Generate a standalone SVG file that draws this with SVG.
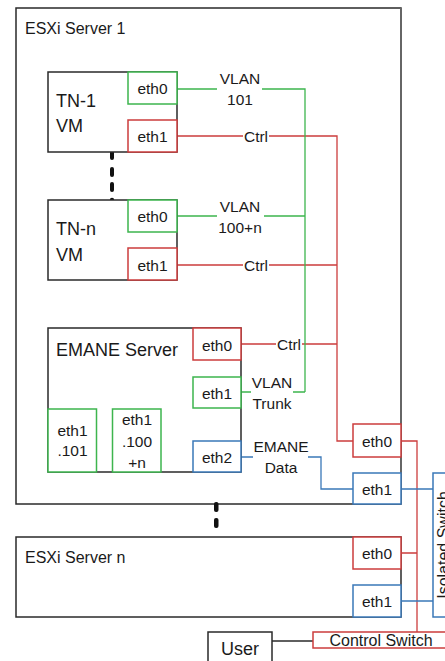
<svg xmlns="http://www.w3.org/2000/svg" width="445" height="661" viewBox="0 0 445 661">
<style>
text{font-family:"Liberation Sans",Arial,sans-serif;fill:#1a1a1a}
.big{font-size:18px}
.ttl{font-size:16px}
.sm{font-size:15.5px;text-anchor:middle}
.box{fill:#fff;stroke:#2a2a2a;stroke-width:1.5}
.g{fill:#fff;stroke:#3db54e;stroke-width:1.5}
.r{fill:#fff;stroke:#cc3d3d;stroke-width:1.5}
.b{fill:#fff;stroke:#3a78b8;stroke-width:1.5}
.lg{fill:none;stroke:#3db54e;stroke-width:1.3}
.lr{fill:none;stroke:#cc3d3d;stroke-width:1.3}
.lb{fill:none;stroke:#3a78b8;stroke-width:1.3}
.lk{fill:none;stroke:#2a2a2a;stroke-width:1.3}
</style>

<g id="esxi1">
<rect x="16" y="8" width="385" height="496" fill="#fff" stroke="#2a2a2a" stroke-width="1.5"/>
<line x1="401" y1="8" x2="401" y2="504" stroke="#666" stroke-width="2"/>
<text class="ttl" x="25" y="34">ESXi Server 1</text>
</g>

<g id="esxin">
<rect x="16" y="537" width="385" height="80" class="box"/>
<text class="ttl" x="25" y="563">ESXi Server n</text>
</g>

<g id="dots">
<rect x="110" y="150" width="4" height="10" rx="2" fill="#111"/>
<rect x="110" y="167" width="4" height="10" rx="2" fill="#111"/>
<rect x="110" y="182" width="4" height="10" rx="2" fill="#111"/>
<circle cx="112" cy="200" r="2.2" fill="#111"/>
<rect x="214" y="502" width="4.5" height="10" rx="2" fill="#111"/>
<rect x="214" y="518" width="4.5" height="10" rx="2" fill="#111"/>
</g>

<g id="connectors">
<path class="lr" d="M177 136H243M269 136H337V441H353"/>
<path class="lr" d="M177 265H243M269 265H337"/>
<path class="lr" d="M241 344H276M302 344H337"/>
<path class="lr" d="M401 441H417V632M401 553H417"/>
<path class="lg" d="M177 89H217M262 89H305V392"/>
<path class="lg" d="M177 216H217M264 216H305"/>
<path class="lg" d="M241 392H251M293 392H305"/>
<path class="lg" d="M193 392H73V409M137 392V409"/>
<path class="lb" d="M241 457H253M308 457H321V489H353"/>
<path class="lb" d="M401 489H433M401 601H433"/>
<path class="lk" d="M272 641H313"/>
<text class="sm" x="240" y="84">VLAN</text>
<text class="sm" x="240" y="105">101</text>
<text class="sm" x="256" y="142">Ctrl</text>
<text class="sm" x="240" y="212">VLAN</text>
<text class="sm" x="240" y="233">100+n</text>
<text class="sm" x="256" y="271">Ctrl</text>
<text class="sm" x="289" y="350">Ctrl</text>
<text class="sm" x="272" y="388">VLAN</text>
<text class="sm" x="272" y="409">Trunk</text>
<text class="sm" x="281" y="452">EMANE</text>
<text class="sm" x="281" y="473">Data</text>
</g>

<g id="tn1">
<rect x="48" y="72" width="129" height="80" class="box"/>
<text class="big" x="56" y="107">TN-1</text>
<text class="big" x="56" y="132">VM</text>
</g>
<g id="tn1-eth0"><rect x="128" y="72" width="49" height="32" class="g"/><text class="sm" x="152.5" y="94">eth0</text></g>
<g id="tn1-eth1"><rect x="128" y="120" width="49" height="32" class="r"/><text class="sm" x="152.5" y="142">eth1</text></g>

<g id="tnn">
<rect x="48" y="200" width="129" height="80" class="box"/>
<text class="big" x="56" y="235">TN-n</text>
<text class="big" x="56" y="261">VM</text>
</g>
<g id="tnn-eth0"><rect x="128" y="200" width="49" height="32" class="g"/><text class="sm" x="152.5" y="222">eth0</text></g>
<g id="tnn-eth1"><rect x="128" y="248" width="49" height="32" class="r"/><text class="sm" x="152.5" y="271">eth1</text></g>

<g id="emane">
<rect x="48" y="328" width="193" height="144" class="box"/>
<text class="big" x="56" y="356">EMANE Server</text>
</g>
<g id="emane-eth0"><rect x="193" y="328" width="48" height="32" class="r"/><text class="sm" x="217" y="351">eth0</text></g>
<g id="emane-eth1"><rect x="193" y="377" width="48" height="31" class="g"/><text class="sm" x="217" y="399">eth1</text></g>
<g id="emane-eth2"><rect x="193" y="441" width="48" height="31" class="b"/><text class="sm" x="217" y="463">eth2</text></g>
<g id="eth1-101"><rect x="48" y="409" width="48.5" height="63" class="g"/><text class="sm" x="72.5" y="436">eth1</text><text class="sm" x="72.5" y="456">.101</text></g>
<g id="eth1-100n"><rect x="112.5" y="409" width="48.5" height="63" class="g"/><text class="sm" x="137" y="425">eth1</text><text class="sm" x="137" y="447">.100</text><text class="sm" x="137" y="468">+n</text></g>

<g id="s1-eth0"><rect x="353" y="424" width="48" height="33" class="r"/><text class="sm" x="377" y="447">eth0</text></g>
<g id="s1-eth1"><rect x="353" y="473" width="48" height="31" class="b"/><text class="sm" x="377" y="495">eth1</text></g>
<g id="sn-eth0"><rect x="353" y="537" width="48" height="32" class="r"/><text class="sm" x="377" y="559">eth0</text></g>
<g id="sn-eth1"><rect x="353" y="585" width="48" height="32" class="b"/><text class="sm" x="377" y="607">eth1</text></g>

<g id="isolated-switch">
<rect x="433" y="473" width="30" height="144" class="b"/>
<text class="ttl" transform="translate(449 545) rotate(-90)" text-anchor="middle">Isolated Switch</text>
</g>

<g id="control-switch">
<rect x="313" y="632" width="150" height="16" class="r"/>
<text class="sm" x="381" y="646" style="font-size:16px">Control Switch</text>
</g>

<g id="user">
<rect x="208" y="632" width="64" height="40" class="box"/>
<text class="big" x="240" y="655" text-anchor="middle">User</text>
</g>
</svg>
